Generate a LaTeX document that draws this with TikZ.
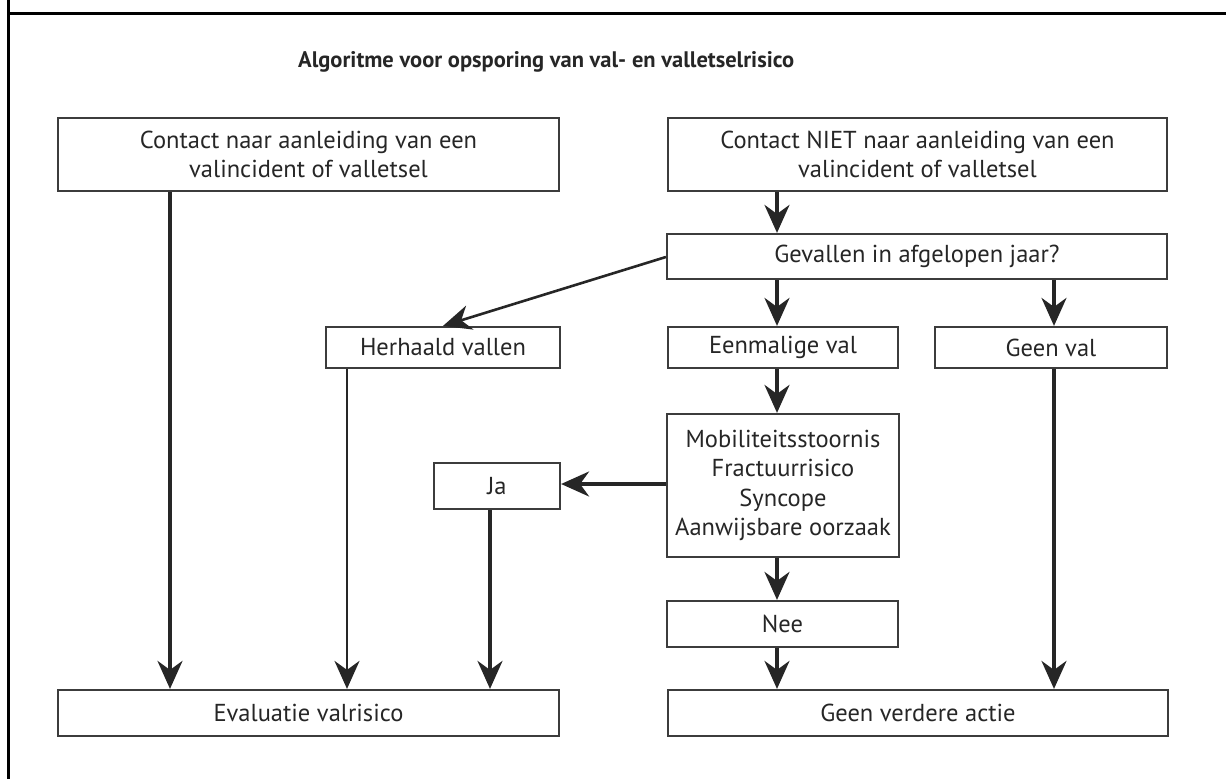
\documentclass[tikz,border=0pt]{standalone}
\usepackage{fontspec}
\setmainfont{PT Sans}
\usetikzlibrary{arrows.meta}
\definecolor{ink}{HTML}{262626}
\tikzset{
  box/.style={draw=ink!90, line width=2.2pt, fill=white, text=ink, align=center,
    inner sep=0pt, font=\fontsize{24.5}{29.5}\selectfont},
  arr/.style={draw=ink, line width=3.2pt, -{Stealth[length=28pt,width=25pt,inset=9pt]}},
  thinarr/.style={arr, line width=2.6pt},
}
\begin{document}
\begin{tikzpicture}[x=1pt,y=-1pt]
\useasboundingbox (0,0) rectangle (1226,779);
% frame
\draw[line width=2.6pt, black] (8.5,0) -- (8.5,779);
\draw[line width=2.6pt, black] (8.5,13.5) -- (1226,13.5);
% title
\node[anchor=west, text=ink, font=\fontsize{22.5}{26}\selectfont\bfseries, inner sep=0pt] (title) at (298,62) {Algoritme voor opsporing van val- en valletselrisico};
% boxes
\node[box, minimum width=501pt, minimum height=73pt] (c1) at (308.5,154.5) {Contact naar aanleiding van een\\valincident of valletsel};
\node[box, minimum width=499pt, minimum height=73pt] (c2) at (917.5,154.5) {Contact NIET naar aanleiding van een\\valincident of valletsel};
\node[box, minimum width=500pt, minimum height=45pt] (gev) at (917,256.5) {Gevallen in afgelopen jaar?};
\node[box, minimum width=234pt, minimum height=41pt] (her) at (443,347.5) {Herhaald vallen};
\node[box, minimum width=230pt, minimum height=41pt] (een) at (783,347.5) {Eenmalige val};
\node[box, minimum width=232pt, minimum height=41pt] (gv) at (1051,347.5) {Geen val};
\node[box, minimum width=232pt, minimum height=143pt] (mob) at (783,485.5) {Mobiliteitsstoornis\\Fractuurrisico\\Syncope\\Aanwijsbare oorzaak};
\node[box, minimum width=126pt, minimum height=46pt] (ja) at (497,486) {Ja};
\node[box, minimum width=231pt, minimum height=46pt] (nee) at (782.5,624) {Nee};
\node[box, minimum width=501pt, minimum height=46pt] (ev) at (308.5,713) {Evaluatie valrisico};
\node[box, minimum width=500pt, minimum height=46pt] (gva) at (918,713) {Geen verdere actie};
% arrow columns
\coordinate (xa) at (170,0);
\coordinate (xb) at (347,0);
\coordinate (xc) at (490,0);
\coordinate (xd) at (777,0);
\coordinate (xe) at (1054,0);
\coordinate (ym) at (0,484);
\coordinate (yg) at (0,257);
% connectors
\draw[arr] (c1.south -| xa) -- (ev.north -| xa);
\draw[thinarr] (her.south -| xb) -- (ev.north -| xb);
\draw[arr] (ja.south -| xc) -- (ev.north -| xc);
\draw[arr] (c2.south -| xd) -- (gev.north -| xd);
\draw[thinarr] (gev.west |- yg) -- (her.north);
\draw[arr] (gev.south -| xd) -- (een.north -| xd);
\draw[arr] (gev.south -| xe) -- (gv.north -| xe);
\draw[arr] (een.south -| xd) -- (mob.north -| xd);
\draw[arr] (mob.west |- ym) -- (ja.east |- ym);
\draw[arr] (mob.south -| xd) -- (nee.north -| xd);
\draw[arr] (nee.south -| xd) -- (gva.north -| xd);
\draw[arr] (gv.south -| xe) -- (gva.north -| xe);
\end{tikzpicture}
\end{document}
